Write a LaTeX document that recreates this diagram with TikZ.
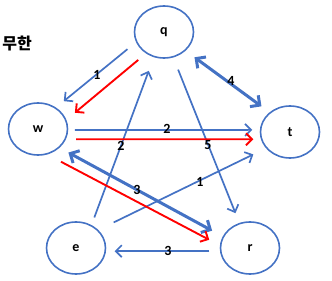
\documentclass[tikz,border=0pt]{standalone}
\usepackage{fontspec}
\setmainfont{Carlito}
\newfontfamily\kofont{Noto Sans CJK KR}
\usetikzlibrary{shapes.geometric,arrows.meta,calc}

\definecolor{edgeblue}{HTML}{4472C4}
\definecolor{edgered}{HTML}{FF0000}

\begin{document}
\begin{tikzpicture}[x=1pt, y=-1pt,
    vertex/.style={draw=edgeblue, ellipse, line width=1.6pt, minimum width=59pt, minimum height=52pt, inner sep=0pt, font=\fontsize{14}{16}\selectfont\bfseries},
    edge/.style={-{Straight Barb[length=6pt,width=12pt]}, line width=1.7pt, draw=edgeblue},
    both/.style={{Straight Barb[length=7pt,width=14pt]}-{Straight Barb[length=7pt,width=14pt]}, line width=3pt, draw=edgeblue},
    hot/.style={-{Straight Barb[length=6pt,width=12pt]}, line width=1.9pt, draw=edgered},
    wlabel/.style={font=\fontsize{14}{16}\selectfont\bfseries},
]
\useasboundingbox (0,0) rectangle (332,281);

\node[font=\kofont\fontsize{16}{18}\selectfont\bfseries] (title) at (17,43) {무한};

% Vertices
\node[vertex] (q) at (164,32) {q};
\node[vertex] (w) at (38,129) {w};
\node[vertex] (t) at (290,132) {t};
\node[vertex] (e) at (76,248) {e};
\node[vertex] (r) at (250,248) {r};

% Blue edges
\draw[edge, shorten <=11pt, shorten >=10pt] (q.200) -- (w.50);
\draw[both, shorten <=11pt, shorten >=10pt] (q.319) -- (t.136);
\draw[edge, shorten <=6.5pt, shorten >=7.5pt] (w.358) -- (t.176);
\draw[edge, shorten <=8pt, shorten >=14.5pt] (e.56) -- (q.248);
\draw[edge, shorten <=13pt, shorten >=10.5pt] (q.290) -- (r.113);
\draw[both, shorten <=10pt, shorten >=12pt] (w.319) -- (r.157);
\draw[edge, shorten <=17pt, shorten >=14pt] (e.39) -- (t.214);
\draw[edge, shorten <=10.5pt, shorten >=8.5pt] (r.186) -- (e.354);

% Red path
\draw[hot, shorten <=10pt, shorten >=11pt] (q.230) -- (w.18);
\draw[hot, shorten <=10pt, shorten >=7.5pt] (w.340) -- (t.194);
\draw[hot, shorten <=15.5pt, shorten >=12pt] (w.290) -- (r.175);

% Weights
\node[wlabel] (wqw) at (97,75) {1};
\node[wlabel] (wqt) at (231,81) {4};
\node[wlabel] (wwt) at (167,129) {2};
\node[wlabel] (weq) at (121,146) {2};
\node[wlabel] (wqr) at (208,145) {5};
\node[wlabel] (wwr) at (137,190) {3};
\node[wlabel] (wet) at (200,182) {1};
\node[wlabel] (wre) at (168,251) {3};

\end{tikzpicture}
\end{document}
